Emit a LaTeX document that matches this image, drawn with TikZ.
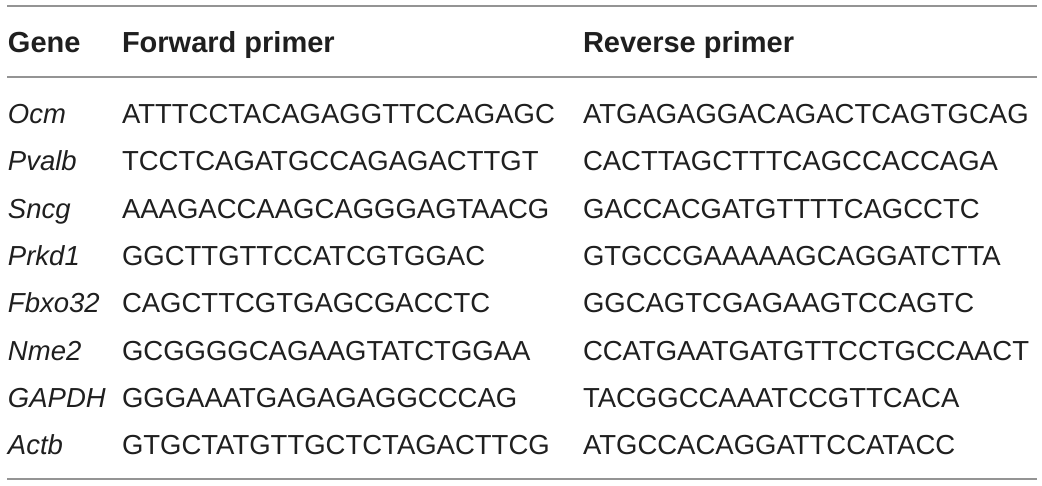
\documentclass[tikz,border=0pt]{standalone}
\usepackage{fontspec}
\setmainfont{Liberation Sans}
\begin{document}
\begin{tikzpicture}[x=1pt,y=-1pt,
  cell/.style={anchor=base west,inner sep=0pt,outer sep=0pt,text=black!88,font=\fontsize{27.5}{30}\selectfont},
  head/.style={cell,font=\fontsize{29}{32}\selectfont\bfseries},
  gene/.style={cell,font=\fontsize{27.5}{30}\selectfont\itshape},
  rule/.style={draw=black!42,line width=1.5pt}]
\useasboundingbox (0,0) rectangle (1042,485);
\fill[white] (0,0) rectangle (1042,485);
\draw[rule] (7,6) -- (1037,6);
\draw[rule] (7,77) -- (1037,77);
\draw[rule] (7,479) -- (1037,479);
\node[head] (hg) at (8,52) {Gene};
\node[head] (hf) at (122,52) {Forward primer};
\node[head] (hr) at (583,52) {Reverse primer};
\foreach \g/\f/\r [count=\i from 0] in {
  Ocm/ATTTCCTACAGAGGTTCCAGAGC/ATGAGAGGACAGACTCAGTGCAG,
  Pvalb/TCCTCAGATGCCAGAGACTTGT/CACTTAGCTTTCAGCCACCAGA,
  Sncg/AAAGACCAAGCAGGGAGTAACG/GACCACGATGTTTTCAGCCTC,
  Prkd1/GGCTTGTTCCATCGTGGAC/GTGCCGAAAAAGCAGGATCTTA,
  Fbxo32/CAGCTTCGTGAGCGACCTC/GGCAGTCGAGAAGTCCAGTC,
  Nme2/GCGGGGCAGAAGTATCTGGAA/CCATGAATGATGTTCCTGCCAACT,
  GAPDH/GGGAAATGAGAGAGGCCCAG/TACGGCCAAATCCGTTCACA,
  Actb/GTGCTATGTTGCTCTAGACTTCG/ATGCCACAGGATTCCATACC}{
  \pgfmathsetmacro{\yy}{123.5+47.3*\i}
  \node[gene] (g\i) at (8,\yy) {\g};
  \node[cell] (f\i) at (122,\yy) {\f};
  \node[cell] (r\i) at (583,\yy) {\r};
}
\end{tikzpicture}
\end{document}
